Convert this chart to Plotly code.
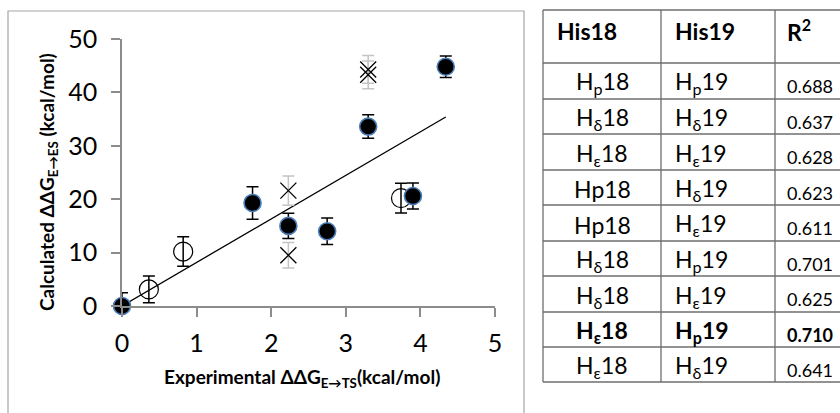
import plotly.graph_objects as go

# ---------------- data ----------------
filled_x = [0.0, 1.75, 2.23, 2.75, 3.30, 3.90, 4.34]
filled_y = [0.0, 19.3, 15.0, 14.0, 33.6, 20.6, 44.8]
filled_err_plus = [2.5, 3.05, 2.35, 2.5, 2.2, 2.45, 2.0]
filled_err_minus = [0.0, 3.05, 2.35, 2.5, 2.2, 2.45, 2.0]

open_x = [0.36, 0.82, 3.74]
open_y = [3.1, 10.2, 20.2]
open_err = [2.5, 2.75, 2.8]

cross_x = [2.23, 2.23, 3.30, 3.30]
cross_y = [21.6, 9.5, 44.3, 43.3]
cross_err = [2.75, 2.4, 2.6, 2.6]

trend_x = [0.0, 4.34]
trend_y = [0.0, 35.4]

x_ticks = [0, 1, 2, 3, 4, 5]
y_ticks = [0, 10, 20, 30, 40, 50]

table_header = ["His18", "His19", "R<sup>2</sup>"]
his18 = ["H<sub>p</sub>18", "H<sub>δ</sub>18", "H<sub>ε</sub>18", "Hp18", "Hp18",
         "H<sub>δ</sub>18", "H<sub>δ</sub>18", "H<sub>ε</sub>18", "H<sub>ε</sub>18"]
his19 = ["H<sub>p</sub>19", "H<sub>δ</sub>19", "H<sub>ε</sub>19", "H<sub>δ</sub>19", "H<sub>ε</sub>19",
         "H<sub>p</sub>19", "H<sub>ε</sub>19", "H<sub>p</sub>19", "H<sub>δ</sub>19"]
r2 = ["0.688", "0.637", "0.628", "0.623", "0.611", "0.701", "0.625", "0.710", "0.641"]
bold_row = 7

# ---------------- layout helpers ----------------
W, H = 840, 413
L, R, T, B = 122, 345, 39, 107
PW = W - L - R
PH = H - T - B
FONT = "Lato, Carlito, Calibri, sans-serif"


def px(x):
    return (x - L) / PW


def py(y):
    return (H - B - y) / PH


fig = go.Figure()

fig.add_trace(go.Scatter(
    x=trend_x, y=trend_y, mode="lines",
    line=dict(color="black", width=1.3), showlegend=False, hoverinfo="skip"))

fig.add_trace(go.Scatter(
    x=cross_x, y=cross_y, mode="markers", cliponaxis=False,
    marker=dict(symbol="x-thin", size=16, line=dict(color="black", width=1.3)),
    error_y=dict(type="data", array=cross_err, color="#c4c4c4", thickness=1.5, width=6),
    showlegend=False))

fig.add_trace(go.Scatter(
    x=open_x, y=open_y, mode="markers", cliponaxis=False,
    marker=dict(symbol="circle-open", size=19, color="black", line=dict(color="black", width=1.2)),
    error_y=dict(type="data", array=open_err, color="black", thickness=1.5, width=6),
    showlegend=False))

fig.add_trace(go.Scatter(
    x=filled_x, y=filled_y, mode="markers", cliponaxis=False,
    marker=dict(symbol="circle", size=17, color="black", line=dict(color="#4a7ebb", width=1.6)),
    error_y=dict(type="data", symmetric=False, array=filled_err_plus, arrayminus=filled_err_minus,
                 color="black", thickness=1.5, width=6),
    showlegend=False))

axis_common = dict(
    showgrid=False, zeroline=False, showline=True, linecolor="#8c8c8c", linewidth=1.5,
    ticks="outside", ticklen=9, tickwidth=1.5, tickcolor="#8c8c8c",
    tickfont=dict(family=FONT, size=25, color="black"),
)

fig.update_layout(
    width=W, height=H,
    margin=dict(l=L, r=R, t=T, b=B, pad=0),
    paper_bgcolor="white", plot_bgcolor="white",
    xaxis=dict(range=[0, 5], tickvals=x_ticks, ticklabelstandoff=5, **axis_common),
    yaxis=dict(range=[0, 50], tickvals=y_ticks, ticklabelstandoff=9, **axis_common),
    font=dict(family=FONT, color="black"),
)

shapes = []
annotations = []

# chart border
shapes.append(dict(type="rect", xref="paper", yref="paper",
                   x0=px(8), x1=px(524), y0=py(440), y1=py(11),
                   line=dict(color="#a6a6a6", width=1.2), fillcolor="rgba(0,0,0,0)", layer="below"))

# axis titles
annotations.append(dict(
    xref="paper", yref="paper", x=px(48), y=py(182), xanchor="center", yanchor="middle",
    textangle=-90, showarrow=False,
    text="<b>Calculated ΔΔG<sub>E→ES</sub> (kcal/mol)</b>",
    font=dict(family=FONT, size=19, color="black")))
annotations.append(dict(
    xref="paper", yref="paper", x=px(302), y=py(378), xanchor="center", yanchor="middle",
    showarrow=False,
    text="<b>Experimental ΔΔG<sub>E→TS</sub>(kcal/mol)</b>",
    font=dict(family=FONT, size=19, color="black")))

# table
tcol_x = [543, 661, 775]
trow_y = [10, 63, 99, 134, 170, 205, 241, 276, 312, 347, 382]
line_c = "#6e6e6e"
for xv in tcol_x:
    shapes.append(dict(type="line", xref="paper", yref="paper",
                       x0=px(xv), x1=px(xv), y0=py(trow_y[0]), y1=py(trow_y[-1]),
                       line=dict(color=line_c, width=1.3)))
for yv in trow_y:
    shapes.append(dict(type="line", xref="paper", yref="paper",
                       x0=px(tcol_x[0]), x1=px(860), y0=py(yv), y1=py(yv),
                       line=dict(color=line_c, width=1.3)))

head_x = [555, 673, 785]
for hx, txt in zip(head_x, table_header):
    annotations.append(dict(
        xref="paper", yref="paper", x=px(hx), y=py(31), xanchor="left", yanchor="middle",
        showarrow=False, text="<b>" + txt + "</b>",
        font=dict(family=FONT, size=23, color="black")))

for i in range(len(r2)):
    y0, y1 = trow_y[i + 1], trow_y[i + 2]
    yc = (y0 + y1) / 2
    b0, b1 = ("<b>", "</b>") if i == bold_row else ("", "")
    annotations.append(dict(
        xref="paper", yref="paper", x=px(602), y=py(yc + 2), xanchor="center", yanchor="middle",
        showarrow=False, text=b0 + his18[i] + b1,
        font=dict(family=FONT, size=23, color="black")))
    annotations.append(dict(
        xref="paper", yref="paper", x=px(673), y=py(yc + 2), xanchor="left", yanchor="middle",
        showarrow=False, text=b0 + his19[i] + b1,
        font=dict(family=FONT, size=23, color="black")))
    annotations.append(dict(
        xref="paper", yref="paper", x=px(785), y=py(yc + 5), xanchor="left", yanchor="middle",
        showarrow=False, text=b0 + r2[i] + b1,
        font=dict(family=FONT, size=18, color="black")))

fig.update_layout(shapes=shapes, annotations=annotations)

fig.write_html("out.html", config={"displayModeBar": False},
               post_script="document.body.style.margin='0';document.body.style.overflow='hidden';")
